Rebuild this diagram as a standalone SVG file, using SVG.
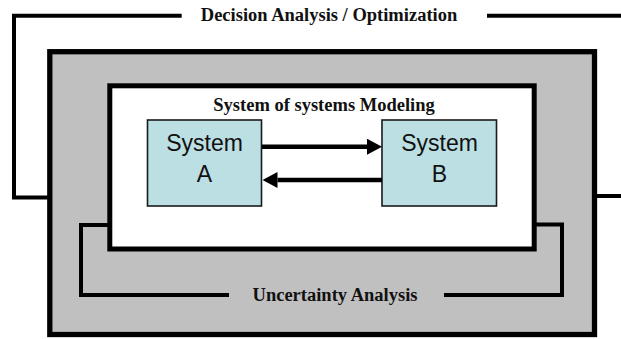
<svg xmlns="http://www.w3.org/2000/svg" width="621" height="339" viewBox="0 0 621 339">
<style>
.frame{fill:#c0c0c0;stroke:#000;stroke-width:5.3}
.inner{fill:#fff;stroke:#000;stroke-width:5}
.sys{fill:#bbdfe3;stroke:#1a1a1a;stroke-width:1.6}
.loop{fill:none;stroke:#000;stroke-width:4}
.arrow{fill:none;stroke:#000;stroke-width:4.5}
.lbl{font-family:"Liberation Serif","Times New Roman",serif;font-weight:bold;font-size:18.5px;fill:#111;text-anchor:middle}
.sysText{font-family:"Liberation Sans",Arial,sans-serif;font-size:23px;fill:#111;text-anchor:middle}
</style>
<defs>
<marker id="ah" viewBox="0 0 15 16" refX="0" refY="8" markerWidth="15" markerHeight="16" markerUnits="userSpaceOnUse" orient="auto">
<path d="M0,0 L15,8 L0,16 z" fill="#000"/>
</marker>
</defs>
<g id="decision-analysis">
<rect class="frame" x="49.8" y="51.7" width="544.7" height="282.8"/>
<text class="lbl" x="329" y="21">Decision Analysis / Optimization</text>
</g>
<g id="sos-modeling">
<rect class="inner" x="109.8" y="85.8" width="424.4" height="163.2"/>
<text class="lbl" x="324" y="111">System of systems Modeling</text>
</g>
<g id="uncertainty-analysis">
<text class="lbl" x="335" y="301">Uncertainty Analysis</text>
</g>
<g id="system-a">
<rect class="sys" x="147.5" y="120" width="114" height="86"/>
<text class="sysText" x="204.5" y="151">System</text>
<text class="sysText" x="204.5" y="182">A</text>
</g>
<g id="system-b">
<rect class="sys" x="382" y="120" width="114.5" height="86"/>
<text class="sysText" x="439.5" y="151">System</text>
<text class="sysText" x="439.5" y="182">B</text>
</g>
<g id="connectors">
<polyline class="loop" points="181.7,15.8 14,15.8 14,197.5 48,197.5"/>
<line class="loop" x1="487" y1="15.8" x2="621" y2="15.8"/>
<line class="loop" x1="596" y1="196" x2="621" y2="196"/>
<polyline class="loop" points="111,225 81,225 81,295 229,295"/>
<polyline class="loop" points="444,295 562,295 562,224.5 533,224.5"/>
<line class="arrow" x1="262" y1="146.7" x2="367" y2="146.7" marker-end="url(#ah)"/>
<line class="arrow" x1="382" y1="180" x2="277.5" y2="180" marker-end="url(#ah)"/>
</g>
</svg>
